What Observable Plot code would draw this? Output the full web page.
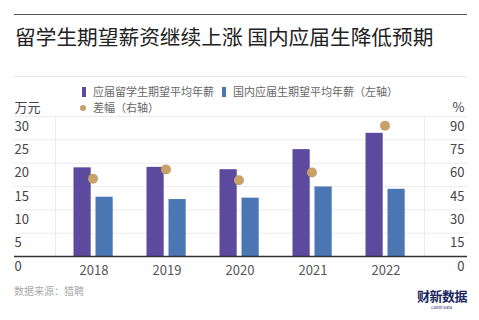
<!DOCTYPE html>
<html><head><meta charset="utf-8">
<script src="https://cdn.jsdelivr.net/npm/d3@7"></script>
<script src="https://cdn.jsdelivr.net/npm/@observablehq/plot@0.6"></script>
<style>
body{margin:0;background:#fff;font-family:"Noto Sans CJK SC","Noto Sans",sans-serif;}
#wrap{position:relative;width:479px;height:320px;overflow:hidden;background:#fff;}
.abs{position:absolute;white-space:nowrap;}
.lg{font-size:11px;line-height:14px;color:#666;}
</style></head><body><div id="wrap">
<div class="abs" style="left:14px;top:14px;width:453px;height:1px;background:#555"></div>
<div class="abs" style="left:15px;top:22px;font-size:20.7px;line-height:28px;color:#222">留学生期望薪资继续上涨 国内应届生降低预期</div>
<div class="abs" style="left:14px;top:76px;width:453px;height:1px;background:#e6e6e6"></div>
<div id="chart" class="abs" style="left:0;top:90px"></div>
<div class="abs lg" style="left:82px;top:84px;"><span style="display:inline-block;width:4px;height:10px;background:#5b4a9e;vertical-align:-1px;margin-right:7px"></span>应届留学生期望平均年薪<span style="display:inline-block;width:4px;height:10px;background:#4a76b4;vertical-align:-1px;margin-left:8px;margin-right:7px"></span>国内应届生期望平均年薪（左轴）</div>
<div class="abs lg" style="left:80px;top:100px;"><span style="display:inline-block;width:6px;height:6px;border-radius:3px;background:#c9a06a;vertical-align:1px;margin-right:7px"></span>差幅（右轴）</div>
<div class="abs" style="left:14px;top:284px;font-size:10px;line-height:14px;color:#aaa">数据来源：猎聘</div>
<div class="abs" style="left:411px;top:289px;width:56px;text-align:right;font-size:13px;line-height:14px;font-weight:bold;color:#1b2760;letter-spacing:-0.5px">财新数据</div>
<div class="abs" style="left:431px;top:305px;font-size:4px;line-height:5px;color:#1b2760">Caixin Data</div>
</div>
<script>
const years = ["2018", "2019", "2020", "2021", "2022"];
const abroad = [19.0, 19.1, 18.6, 22.9, 26.4];
const domestic = [12.7, 12.2, 12.5, 14.9, 14.4];
const gap = [50, 56, 49, 54, 84];
const leftTicks = [0, 5, 10, 15, 20, 25, 30];
const gridTicks = [5, 10, 15, 20, 25, 30];

const rows = years.map((y, i) => ({year: y, abroad: abroad[i], domestic: domestic[i], gap: gap[i]}));
const font = '"Noto Sans CJK SC","Noto Sans",sans-serif';

const chart = Plot.plot({
  width: 479,
  height: 198,
  marginTop: 26,
  marginBottom: 32,
  marginLeft: 55,
  marginRight: 55,
  style: {fontFamily: font, fontSize: "13px", color: "#444", background: "transparent"},
  x: {domain: years, padding: 0, label: null},
  y: {domain: [0, 30], label: null},
  marks: [
    Plot.frame({stroke: "#ececec"}),
    Plot.ruleY(gridTicks, {stroke: "#ececec", insetLeft: -41, insetRight: -43}),
    Plot.barY(rows, {x: "year", y: "abroad", fill: "#5b4a9e", insetLeft: 16.5, insetRight: 39.3}),
    Plot.barY(rows, {x: "year", y: "domestic", fill: "#4a76b4", insetLeft: 38.5, insetRight: 17.3}),
    Plot.ruleY([0], {stroke: "#333", strokeWidth: 1.5, insetLeft: -41, insetRight: -43}),
    Plot.dot(rows, {x: "year", y: d => d.gap / 3, r: 5, fill: "#c9a06a", dx: -1}),
    Plot.axisX({tickSize: 0, tickPadding: 9, fontSize: 13, fill: "#555"}),
    Plot.axisY({anchor: "left", ticks: leftTicks, tickSize: 0, tickPadding: 0, textAnchor: "start", dx: -41, dy: 10, fontSize: 13, fill: "#444", label: null}),
    Plot.axisY({anchor: "right", ticks: leftTicks, tickFormat: d => d * 3, tickSize: 0, tickPadding: 0, textAnchor: "end", dx: 40, dy: 10, fontSize: 13, fill: "#444", label: null}),
    Plot.text(["万元"], {frameAnchor: "top-left", dx: -41, dy: -14, textAnchor: "start", fontSize: 13, fill: "#444"}),
    Plot.text(["%"], {frameAnchor: "top-right", dx: 40, dy: -14, textAnchor: "end", fontSize: 13, fill: "#444"})
  ]
});
document.getElementById("chart").appendChild(chart);
</script>
</body></html>
